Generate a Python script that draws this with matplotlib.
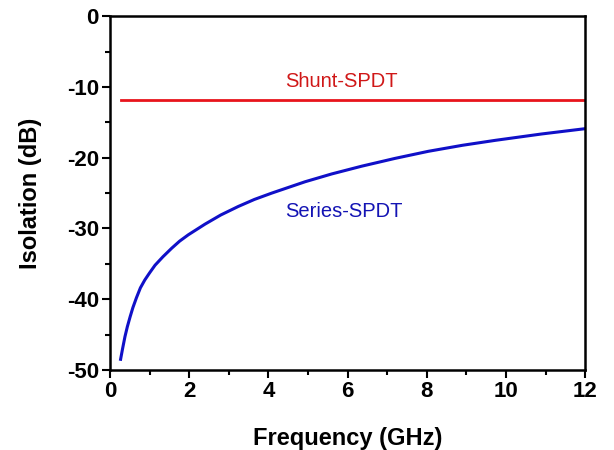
import matplotlib
matplotlib.use("Agg")
import matplotlib.pyplot as plt
from matplotlib.ticker import MultipleLocator

# values
series_freq = [0.27, 0.32, 0.38, 0.44, 0.51, 0.58, 0.67, 0.77, 0.88, 1.0, 1.14, 1.34,
               1.56, 1.76, 1.98, 2.4, 2.8, 3.24, 3.65, 4.09, 4.93, 5.6, 6.36, 7.2,
               8.04, 8.9, 9.73, 10.9, 12.0]
series_iso = [-48.5, -47.0, -45.3, -43.9, -42.5, -41.2, -39.8, -38.4, -37.3, -36.3,
              -35.2, -34.0, -32.8, -31.8, -30.9, -29.4, -28.1, -26.9, -25.9, -25.0,
              -23.4, -22.3, -21.2, -20.1, -19.1, -18.25, -17.55, -16.65, -15.9]
shunt_freq = [0.27, 12.0]
shunt_iso = [-11.8, -11.8]

plt.rcParams["font.family"] = ["Liberation Sans", "DejaVu Sans"]
plt.rcParams["axes.unicode_minus"] = False

fig = plt.figure(figsize=(6.14, 4.5), dpi=100)
ax = fig.add_axes([0.179, 0.178, 0.774, 0.786])

ax.plot(shunt_freq, shunt_iso, color="#e8141c", linewidth=2)
ax.plot(series_freq, series_iso, color="#1010c8", linewidth=2.2)

ax.text(5.85, -9.3, "Shunt-SPDT", color="#d01818", fontsize=14.5, ha="center", va="center")
ax.text(5.92, -27.6, "Series-SPDT", color="#1414b4", fontsize=14.5, ha="center", va="center")

ax.set_xlim(0, 12)
ax.set_ylim(-50, 0)
ax.xaxis.set_major_locator(MultipleLocator(2))
ax.xaxis.set_minor_locator(MultipleLocator(1))
ax.yaxis.set_major_locator(MultipleLocator(10))
ax.yaxis.set_minor_locator(MultipleLocator(5))
ax.tick_params(which="both", direction="out", width=1.5, top=False, right=False,
               labelsize=16, pad=2)
ax.tick_params(which="major", length=6)
ax.tick_params(which="minor", length=3.5)
for lab in ax.get_xticklabels() + ax.get_yticklabels():
    lab.set_fontweight("bold")
for sp in ax.spines.values():
    sp.set_linewidth(1.8)

ax.set_xlabel("Frequency (GHz)", fontsize=17, fontweight="bold", labelpad=18)
ax.set_ylabel("Isolation (dB)", fontsize=17, fontweight="bold", labelpad=18)

fig.savefig("out.png", dpi=100)
